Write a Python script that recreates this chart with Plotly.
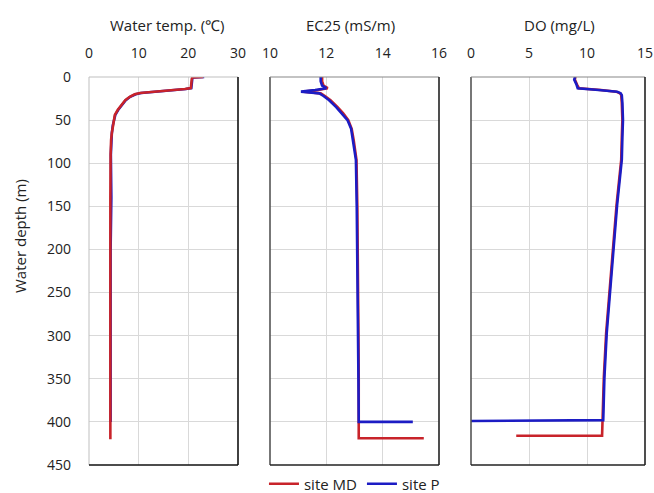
import plotly.graph_objects as go

# ---------------- data ----------------
temp_md_depth = [0, 0.5, 2, 12.8, 14, 15, 16.2, 17.3, 18.6, 20, 23, 27, 32, 38, 44, 50, 56, 65, 73, 90, 140, 200, 300, 420]
temp_md = [23.0, 20.8, 20.7, 20.5, 19.3, 17.0, 14.3, 12.0, 10.3, 9.2, 8.2, 7.3, 6.6, 5.8, 5.2, 5.0, 4.8, 4.6, 4.45, 4.35, 4.3, 4.3, 4.3, 4.3]
temp_p_depth = [0, 0.5, 2, 12.8, 14, 15, 16.2, 17.3, 18.6, 20, 23, 27, 32, 38, 44, 50, 56, 65, 73, 90, 140, 200, 300, 400]
temp_p = [23.2, 20.9, 20.8, 20.6, 19.5, 17.2, 14.5, 12.2, 10.5, 9.4, 8.3, 7.4, 6.7, 5.9, 5.3, 5.0, 4.8, 4.6, 4.5, 4.4, 4.5, 4.35, 4.35, 4.35]

ec_depth = [0, 5, 10, 12, 13, 15, 17, 18, 19, 22, 27, 35, 42, 50, 60, 73, 85, 96, 150, 200, 250, 300, 350, 400]
ec_p_vals = [11.8, 11.8, 11.85, 11.95, 12.0, 11.6, 11.1, 11.4, 11.75, 11.9, 12.1, 12.35, 12.55, 12.75, 12.88, 12.95, 13.0, 13.05, 13.08, 13.1, 13.12, 13.13, 13.14, 13.15]
ec_md_vals = [11.85, 11.85, 11.9, 12.0, 12.05, 11.7, 11.2, 11.45, 11.8, 11.95, 12.15, 12.4, 12.6, 12.78, 12.9, 12.97, 13.02, 13.07, 13.1, 13.12, 13.13, 13.14, 13.15, 13.15]
ec_p_bottom_depth = [400]
ec_p_bottom = [15.07]
ec_md_bottom_depth = [419, 419]
ec_md_bottom = [13.15, 15.46]

do_depth = [0, 3, 9, 13, 15, 17, 19, 21, 30, 50, 70, 96, 148, 198, 248, 297, 349, 398]
do_p_vals = [8.97, 8.9, 9.1, 9.2, 11.0, 12.6, 12.9, 13.0, 13.05, 13.1, 13.05, 13.0, 12.6, 12.3, 12.0, 11.7, 11.5, 11.4]
do_md_vals = [9.0, 8.95, 9.15, 9.3, 11.2, 12.5, 12.85, 12.95, 13.0, 13.05, 13.0, 12.95, 12.55, 12.25, 11.95, 11.65, 11.45, 11.35]
do_p_bottom_depth = [399]
do_p_bottom = [0.0]
do_md_bottom_depth = [416, 416]
do_md_bottom = [11.3, 3.9]

panel_titles = ["Water temp. (℃)", "EC25 (mS/m)", "DO (mg/L)"]
series_names = ["site MD", "site P"]

RED = "#c8232a"
BLUE = "#1c1cc4"
FONT = "Open Sans"

fig = go.Figure()

def line(x, y, color, xa, name=None, show=False, group=None):
    fig.add_trace(go.Scatter(x=x, y=y, mode="lines", xaxis=xa, yaxis="y",
                             line=dict(color=color, width=2.6),
                             name=name, showlegend=show, legendgroup=group))

# panel 1 : blue under red
line(temp_p, temp_p_depth, BLUE, "x", series_names[1], False, "p")
line(temp_md, temp_md_depth, RED, "x", series_names[0], True, "md")
# panel 2 : red under blue
line(ec_md_vals + ec_md_bottom, ec_depth + ec_md_bottom_depth, RED, "x2", group="md")
line(ec_p_vals + ec_p_bottom, ec_depth + ec_p_bottom_depth, BLUE, "x2", series_names[1], True, "p")
# panel 3
line(do_md_vals + do_md_bottom, do_depth + do_md_bottom_depth, RED, "x3", group="md")
line(do_p_vals + do_p_bottom, do_depth + do_p_bottom_depth, BLUE, "x3", group="p")

W, H = 654, 493
doms = [(89 / W, 238 / W), (270 / W, 439 / W), (471 / W, 645 / W)]
ranges = [[0, 30], [10, 16], [0, 15]]
dticks = [10, 2, 5]
ytop = 1 - 77 / H
ybot = 1 - 465 / H

grid = "#d9d9d9"
axis_common = dict(side="top", showgrid=True, gridcolor=grid, gridwidth=1, zeroline=False,
                   showline=False, ticks="", tickfont=dict(family=FONT, size=14, color="#222"),
                   anchor="y", fixedrange=True, automargin=False, ticklabelstandoff=15)
layout = dict(
    width=W, height=H, margin=dict(l=0, r=0, t=0, b=0, autoexpand=False),
    paper_bgcolor="white", plot_bgcolor="white",
    font=dict(family=FONT, color="#222"),
    yaxis=dict(domain=[ybot, ytop], range=[450, 0], dtick=50, showgrid=True, gridcolor=grid,
               zeroline=False, showline=False, ticks="", ticklabelstandoff=17, automargin=False,
               fixedrange=True, tickfont=dict(family=FONT, size=14, color="#222")),
    legend=dict(orientation="h", x=0.542, xanchor="center", y=1 - 484 / H, yanchor="middle",
                font=dict(family=FONT, size=15, color="#222"), traceorder="normal",
                itemwidth=30, bgcolor="rgba(0,0,0,0)"),
    showlegend=True,
)
for i, key in enumerate(["xaxis", "xaxis2", "xaxis3"]):
    layout[key] = dict(axis_common, domain=list(doms[i]), range=ranges[i], dtick=dticks[i])
fig.update_layout(**layout)

# titles
title_x = [167 / W, 350 / W, 559 / W]
for i, t in enumerate(panel_titles):
    fig.add_annotation(x=title_x[i], y=1 - 25 / H, xref="paper", yref="paper", text=t, showarrow=False,
                       xanchor="center", yanchor="middle",
                       font=dict(family=FONT, size=15, color="#222"))
fig.add_annotation(x=20 / W, y=1 - 236 / H, xref="paper", yref="paper", text="Water depth (m)",
                   textangle=-90, showarrow=False, xanchor="center", yanchor="middle",
                   font=dict(family=FONT, size=15, color="#222"))

# frames
def seg(x0, y0, x1, y1, color, w=1.5):
    fig.add_shape(type="line", xref="paper", yref="paper", x0=x0, y0=y0, x1=x1, y1=y1,
                  line=dict(color=color, width=w))
seg(doms[0][0], ybot, doms[0][0], ytop, "#bfbfbf", 1)
seg(doms[0][0], ytop, doms[0][1], ytop, "#bfbfbf", 1)
seg(doms[0][1], ybot, doms[0][1], ytop, "#111", 1.6)
seg(doms[0][0], ybot, doms[0][1], ybot, "#111", 1.6)
for d in doms[1:]:
    seg(d[0], ybot, d[0], ytop, "#555", 1.6)
    seg(d[0], ytop, d[1], ytop, "#888", 1.2)
    seg(d[1], ybot, d[1], ytop, "#222", 1.6)
    seg(d[0], ybot, d[1], ybot, "#222", 1.6)

fig.write_html("out.html", config={"displayModeBar": False},
               post_script="document.body.style.margin='0px';document.body.style.overflow='hidden';")
